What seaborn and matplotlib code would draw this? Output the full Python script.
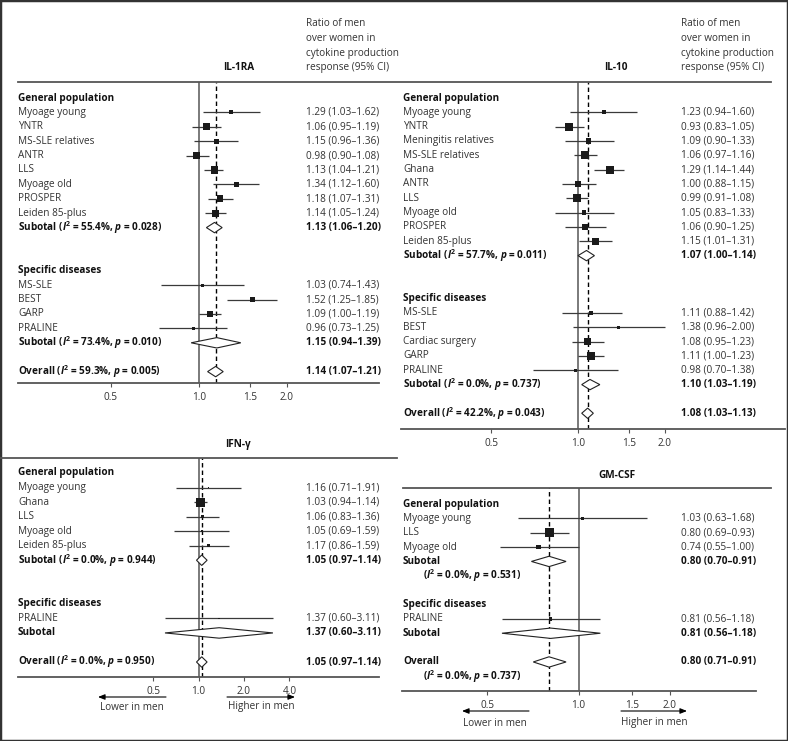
import numpy as np
import pandas as pd
import matplotlib
matplotlib.use("Agg")
import matplotlib.pyplot as plt
import seaborn as sns
from matplotlib.transforms import blended_transform_factory
from matplotlib.lines import Line2D
from matplotlib.patches import Rectangle, Polygon, FancyArrowPatch
from matplotlib.ticker import NullLocator

# ---------------- data ----------------
# IL-1RA
il1ra_gen_names = ["Myoage young", "YNTR", "MS-SLE relatives", "ANTR", "LLS",
                   "Myoage old", "PROSPER", "Leiden 85-plus"]
il1ra_gen_est = [1.29, 1.06, 1.15, 0.98, 1.13, 1.34, 1.18, 1.14]
il1ra_gen_lo = [1.03, 0.95, 0.96, 0.90, 1.04, 1.12, 1.07, 1.05]
il1ra_gen_hi = [1.62, 1.19, 1.36, 1.08, 1.21, 1.60, 1.31, 1.24]
il1ra_gen_wt = [16, 45, 22, 45, 53, 22, 45, 45]
il1ra_gen_sub = [1.13, 1.06, 1.20, 55.4, 0.028]
il1ra_spec_names = ["MS-SLE", "BEST", "GARP", "PRALINE"]
il1ra_spec_est = [1.03, 1.52, 1.09, 0.96]
il1ra_spec_lo = [0.74, 1.25, 1.00, 0.73]
il1ra_spec_hi = [1.43, 1.85, 1.19, 1.25]
il1ra_spec_wt = [9, 25, 45, 11]
il1ra_spec_sub = [1.15, 0.94, 1.39, 73.4, 0.010]
il1ra_overall = [1.14, 1.07, 1.21, 59.3, 0.005]

# IL-10
il10_gen_names = ["Myoage young", "YNTR", "Meningitis relatives", "MS-SLE relatives",
                  "Ghana", "ANTR", "LLS", "Myoage old", "PROSPER", "Leiden 85-plus"]
il10_gen_est = [1.23, 0.93, 1.09, 1.06, 1.29, 1.00, 0.99, 1.05, 1.06, 1.15]
il10_gen_lo = [0.94, 0.83, 0.90, 0.97, 1.14, 0.88, 0.91, 0.83, 0.90, 1.01]
il10_gen_hi = [1.60, 1.05, 1.33, 1.16, 1.44, 1.15, 1.08, 1.33, 1.25, 1.31]
il10_gen_wt = [16, 64, 28, 64, 64, 45, 64, 22, 32, 53]
il10_gen_sub = [1.07, 1.00, 1.14, 57.7, 0.011]
il10_spec_names = ["MS-SLE", "BEST", "Cardiac surgery", "GARP", "PRALINE"]
il10_spec_est = [1.11, 1.38, 1.08, 1.11, 0.98]
il10_spec_lo = [0.88, 0.96, 0.95, 1.00, 0.70]
il10_spec_hi = [1.42, 2.00, 1.23, 1.23, 1.38]
il10_spec_wt = [22, 9, 53, 64, 11]
il10_spec_sub = [1.10, 1.03, 1.19, 0.0, 0.737]
il10_overall = [1.08, 1.03, 1.13, 42.2, 0.043]

# IFN-gamma
ifn_gen_names = ["Myoage young", "Ghana", "LLS", "Myoage old", "Leiden 85-plus"]
ifn_gen_est = [1.16, 1.03, 1.06, 1.05, 1.17]
ifn_gen_lo = [0.71, 0.94, 0.83, 0.69, 0.86]
ifn_gen_hi = [1.91, 1.14, 1.36, 1.59, 1.59]
ifn_gen_wt = [2, 81, 11, 3, 9]
ifn_gen_sub = [1.05, 0.97, 1.14, 0.0, 0.944]
ifn_spec_names = ["PRALINE"]
ifn_spec_est = [1.37]
ifn_spec_lo = [0.60]
ifn_spec_hi = [3.11]
ifn_spec_wt = [3]
ifn_spec_sub = [1.37, 0.60, 3.11, None, None]
ifn_overall = [1.05, 0.97, 1.14, 0.0, 0.950]

# GM-CSF
gm_gen_names = ["Myoage young", "LLS", "Myoage old"]
gm_gen_est = [1.03, 0.80, 0.74]
gm_gen_lo = [0.63, 0.69, 0.55]
gm_gen_hi = [1.68, 0.93, 1.00]
gm_gen_wt = [7, 81, 22]
gm_gen_sub = [0.80, 0.70, 0.91, 0.0, 0.531]
gm_spec_names = ["PRALINE"]
gm_spec_est = [0.81]
gm_spec_lo = [0.56]
gm_spec_hi = [1.18]
gm_spec_wt = [11]
gm_spec_sub = [0.81, 0.56, 1.18, None, None]
gm_overall = [0.80, 0.71, 0.91, 0.0, 0.737]

ticks_a = [0.5, 1.0, 1.5, 2.0]
ticks_b = [0.5, 1.0, 2.0, 4.0]

# ---------------- style ----------------
FONT = 'Open Sans'
plt.rcParams['font.family'] = [FONT, 'DejaVu Sans']
plt.rcParams['mathtext.fontset'] = 'custom'
plt.rcParams['mathtext.rm'] = FONT
plt.rcParams['mathtext.it'] = FONT + ':italic'
plt.rcParams['mathtext.bf'] = FONT + ':bold'
try:
    plt.rcParams['mathtext.bfit'] = FONT + ':italic:bold'
    BFIT = True
except KeyError:
    BFIT = False

W, H = 788, 741
fig = plt.figure(figsize=(W / 100, H / 100), dpi=100)
FS = 7.2
TXT = '#333333'
BLK = '#111111'
LINEC = '#555555'


def fx(px):
    return px / W


def fy(py):
    return 1 - py / H


def istr(i2, pv):
    if BFIT:
        return (r"($\mathbfit{I}^{\mathbf{2}}$ = %.1f%%, $\mathbfit{p}$ = %.3f)" % (i2, pv))
    return (r"($I^{2}$ = %.1f%%, $p$ = %.3f)" % (i2, pv))


def vstr(e, l, h):
    return f"{e:.2f} ({l:.2f}\u2013{h:.2f})"


def draw_panel(p):
    L, R, T, B = p['L'], p['R'], p['T'], p['B']
    r0, dr = p['r0'], p['dr']
    ax = fig.add_axes([L / W, 1 - B / H, (R - L) / W, (B - T) / H])
    ax.set_facecolor('none')
    ax.set_xscale('log')
    p1, k = p['p1'], p['k']
    ax.set_xlim(np.exp((L - p1) / k), np.exp((R - p1) / k))
    ax.set_ylim((B - r0) / dr, (T - r0) / dr)
    trans = blended_transform_factory(fig.transFigure, ax.transData)

    studies = []
    texts = []  # (row, text, bold, indent)
    values = []
    diamonds = []
    r = 0
    groups = [("General population", p['gen'], p['gen_sub']),
              ("Specific diseases", p['spec'], p['spec_sub'])]
    last_sub = 0
    for gi, (gname, g, sub) in enumerate(groups):
        if gi == 1:
            r = last_sub + 3
        texts.append((r, gname, True, 0))
        names, est, lo, hi, wt = g
        for j in range(len(names)):
            r += 1
            texts.append((r, names[j], False, 0))
            values.append((r, vstr(est[j], lo[j], hi[j]), False))
            studies.append(dict(row=r, est=est[j], lo=lo[j], hi=hi[j], weight=wt[j]))
        r += 1
        last_sub = r
        e, l, h, i2, pv = sub
        if i2 is None:
            texts.append((r, "Subotal", True, 0))
        elif p['split']:
            texts.append((r, "Subotal", True, 0))
            texts.append((r + 1, istr(i2, pv), True, 20))
        else:
            texts.append((r, "Subotal " + istr(i2, pv), True, 0))
        values.append((r, vstr(e, l, h), True))
        diamonds.append((r, e, l, h))
    r = last_sub + 2
    e, l, h, i2, pv = p['overall']
    if p['split']:
        texts.append((r, "Overall", True, 0))
        texts.append((r + 1, istr(i2, pv), True, 20))
    else:
        texts.append((r, "Overall " + istr(i2, pv), True, 0))
    values.append((r, vstr(e, l, h), True))
    diamonds.append((r, e, l, h))

    # reference lines
    ax.axvline(1.0, color='#707070', lw=1.3, zorder=1)
    ax.axvline(e, color='black', lw=1.0, ls=(0, (3.2, 2.2)), zorder=2)

    df = pd.DataFrame(studies)
    ax.hlines(df['row'], df['lo'], df['hi'], color='#3a3a3a', lw=0.9, zorder=3)
    sns.scatterplot(data=df, x='est', y='row', size='weight', sizes=(0, 51.84),
                    size_norm=(0, 100), marker='s', color='#1a1a1a', linewidth=0,
                    legend=False, ax=ax, zorder=4)
    hh = 0.36
    for (rr, de, dl, dh) in diamonds:
        poly = Polygon([(dl, rr), (de, rr - hh), (dh, rr), (de, rr + hh)], closed=True,
                       facecolor='white', edgecolor='#222222', lw=0.8, zorder=5)
        ax.add_patch(poly)

    for (rr, t, bold, ind) in texts:
        ax.text(fx(p['labx'] + ind), rr, t, transform=trans, ha='left', va='center',
                fontsize=FS, fontweight='bold' if bold else 'normal',
                color=BLK if bold else TXT, clip_on=False)
    for (rr, t, bold) in values:
        ax.text(fx(p['valx']), rr, t, transform=trans, ha='left', va='center',
                fontsize=FS, fontweight='bold' if bold else 'normal',
                color=BLK if bold else TXT, clip_on=False)

    for s in ['left', 'right', 'top']:
        ax.spines[s].set_visible(False)
    ax.spines['bottom'].set_color(LINEC)
    ax.spines['bottom'].set_linewidth(1.3)
    ax.set_yticks([])
    ax.set_xlabel('')
    ax.set_ylabel('')
    ax.set_xticks(p['ticks'])
    ax.set_xticklabels([f"{t:.1f}" for t in p['ticks']])
    ax.xaxis.set_minor_locator(NullLocator())
    ax.tick_params(axis='x', length=3, width=0.8, color=LINEC, labelsize=FS,
                   labelcolor=TXT, pad=3.5)

    fig.text(fx(p['tx']), fy(p['ty']), p['title'], ha='center', va='center',
             fontsize=FS, fontweight='bold', color=BLK)
    return ax


panels = [
    dict(title="IL-1RA", tx=239, ty=68, L=18, R=379, T=82, B=383.3, r0=98, dr=14.4,
         p1=199, k=127, labx=18, valx=306, ticks=ticks_a, split=False,
         gen=(il1ra_gen_names, il1ra_gen_est, il1ra_gen_lo, il1ra_gen_hi, il1ra_gen_wt),
         gen_sub=il1ra_gen_sub,
         spec=(il1ra_spec_names, il1ra_spec_est, il1ra_spec_lo, il1ra_spec_hi, il1ra_spec_wt),
         spec_sub=il1ra_spec_sub, overall=il1ra_overall),
    dict(title="IL-10", tx=616, ty=68, L=401, R=785, T=82, B=429.3, r0=98, dr=14.33,
         p1=578, k=125.5, labx=403, valx=681, ticks=ticks_a, split=False,
         gen=(il10_gen_names, il10_gen_est, il10_gen_lo, il10_gen_hi, il10_gen_wt),
         gen_sub=il10_gen_sub,
         spec=(il10_spec_names, il10_spec_est, il10_spec_lo, il10_spec_hi, il10_spec_wt),
         spec_sub=il10_spec_sub, overall=il10_overall),
    dict(title="IFN-\u03b3", tx=238, ty=445, L=18, R=379, T=458, B=677, r0=473, dr=14.54,
         p1=198.5, k=65.6, labx=18, valx=306, ticks=ticks_b, split=False,
         gen=(ifn_gen_names, ifn_gen_est, ifn_gen_lo, ifn_gen_hi, ifn_gen_wt),
         gen_sub=ifn_gen_sub,
         spec=(ifn_spec_names, ifn_spec_est, ifn_spec_lo, ifn_spec_hi, ifn_spec_wt),
         spec_sub=ifn_spec_sub, overall=ifn_overall),
    dict(title="GM-CSF", tx=617, ty=475, L=402, R=756, T=488, B=691, r0=504, dr=14.36,
         p1=578.5, k=132, labx=403, valx=681, ticks=ticks_a, split=True,
         gen=(gm_gen_names, gm_gen_est, gm_gen_lo, gm_gen_hi, gm_gen_wt),
         gen_sub=gm_gen_sub,
         spec=(gm_spec_names, gm_spec_est, gm_spec_lo, gm_spec_hi, gm_spec_wt),
         spec_sub=gm_spec_sub, overall=gm_overall),
]

for p in panels:
    draw_panel(p)

# column headers
hdr = ["Ratio of men", "over women in", "cytokine production", "response (95% CI)"]
for cx in (306, 681):
    for i, line in enumerate(hdr):
        fig.text(fx(cx), fy(24 + i * 14.6), line, ha='left', va='center',
                 fontsize=FS, color=TXT)

# header rules
for (x0, x1, y) in [(18, 771, 82), (0, 397, 458), (403, 771, 488)]:
    fig.add_artist(Line2D([fx(x0), fx(x1)], [fy(y), fy(y)], color=LINEC, lw=1.3))

# direction arrows
for (xl0, xl1, xr0, xr1, ya, yt, cl, cr) in [(166, 98, 227, 295, 697, 707, 132, 261),
                                              (529, 462, 621, 687, 711, 723, 495, 654)]:
    for (a, b) in [(xl0, xl1), (xr0, xr1)]:
        fig.add_artist(FancyArrowPatch((fx(a), fy(ya)), (fx(b), fy(ya)),
                                       transform=fig.transFigure,
                                       arrowstyle='-|>,head_length=0.5,head_width=0.2',
                                       mutation_scale=8, lw=0.8, color='black',
                                       shrinkA=0, shrinkB=0))
    fig.text(fx(cl), fy(yt), "Lower in men", ha='center', va='center', fontsize=FS, color=TXT)
    fig.text(fx(cr), fy(yt), "Higher in men", ha='center', va='center', fontsize=FS, color=TXT)

# outer frame
fig.add_artist(Rectangle((0, 0), 1, 1, transform=fig.transFigure, fill=False,
                         edgecolor='#333333', lw=2.5))

fig.savefig("out.png", dpi=100)
